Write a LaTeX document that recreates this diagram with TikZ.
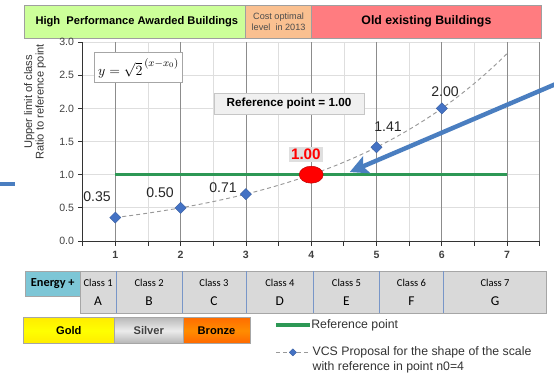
\documentclass[tikz,border=0pt]{standalone}
\usepackage{fontspec}
\setmainfont{Liberation Sans}
\newfontfamily\calibri{Carlito}
\usetikzlibrary{shapes.geometric,arrows.meta}
\definecolor{hdrgreen}{RGB}{204,255,153}
\definecolor{hdrorange}{RGB}{250,192,144}
\definecolor{hdrred}{RGB}{255,124,128}
\definecolor{energyblue}{RGB}{125,198,214}
\definecolor{classgray}{RGB}{217,217,217}
\definecolor{divblue}{RGB}{120,150,200}
\definecolor{refgreen}{RGB}{45,152,85}
\definecolor{markblue}{RGB}{68,114,196}
\definecolor{arrowblue}{RGB}{74,126,192}
\definecolor{gridmaj}{RGB}{140,140,140}
\definecolor{gridmin}{RGB}{222,222,222}
\tikzset{
  hdrbox/.style={draw=gray!75,line width=0.8pt},
  gridminor/.style={draw=gridmin,line width=0.6pt},
  gridmajor/.style={draw=gridmaj,line width=0.7pt},
  axisline/.style={draw=black!80,line width=0.7pt},
  refline/.style={draw=refgreen,line width=2.8pt},
  vcscurve/.style={draw=gray!80,line width=0.8pt,dash pattern=on 3.4pt off 2.6pt},
  vcsmark/.style={diamond,fill=markblue,draw=markblue!80!black,line width=0.3pt,inner sep=0pt,minimum size=0.34cm},
  datalbl/.style={font=\fontsize{12}{13}\selectfont,text=black!85},
  ticklbl/.style={font=\fontsize{9}{10}\selectfont,text=black!75,inner sep=0pt},
  classlbl/.style={font=\calibri\fontsize{9}{10}\selectfont},
  classletter/.style={font=\calibri\fontsize{11.5}{12}\selectfont},
  medal/.style={draw=gray!70,line width=0.8pt},
  medallbl/.style={font=\bfseries\fontsize{9.5}{10}\selectfont},
  legendlbl/.style={font=\fontsize{10.5}{13}\selectfont,text=black!80,inner sep=1pt},
  bigarrow/.style={draw=arrowblue,line width=3.8pt,-{Stealth[length=0.55cm,width=0.55cm,inset=0.12cm]}}
}
\begin{document}
\begin{tikzpicture}[x=1.959cm,y=1.989cm]
\useasboundingbox (-0.766,-1.976) rectangle (7.718,3.635);
\draw [hdrbox,fill=hdrgreen] (-0.398,3.062) rectangle (3,3.555);
\draw [hdrbox,fill=hdrorange] (3,3.062) rectangle (4,3.555);
\draw [hdrbox,fill=hdrred] (4,3.062) rectangle (7.52,3.555);
\node [font=\bfseries\fontsize{9.5}{10}\selectfont] (hpab) at (1.33,3.308) {High\ \ Performance Awarded Buildings};
\node [align=center,text=black!70,font=\fontsize{7.8}{9}\selectfont] (costopt) at (3.5,3.308) {Cost optimal\\level\ \ in 2013};
\node [font=\bfseries\fontsize{10.5}{11}\selectfont] (oldbld) at (5.764,3.308) {Old existing Buildings};
\foreach \y in {0.5,1,...,3} \draw [gridminor] (0.5,\y) -- (7.5,\y);
\foreach \x in {1.5,2.5,...,6.5} \draw [gridminor] (\x,0) -- (\x,3);
\foreach \x in {1,...,7} \draw [gridmajor] (\x,0) -- (\x,3);
\draw [gridmajor] (7.5,0) -- (7.5,3);
\draw [axisline] (0.5,3) -- (0.5,0) -- (7.5,0);
\foreach \y/\t [count=\i] in {0/0.0,0.5/0.5,1/1.0,1.5/1.5,2/2.0,2.5/2.5,3/3.0} {
  \draw [axisline] (0.5,\y) -- (0.43,\y);
  \node [ticklbl,anchor=east] (yt\i) at (0.37,\y) {\t};
}
\foreach \x in {0.5,1,...,7.5} \draw [axisline] (\x,0) -- (\x,-0.07);
\foreach \x in {1,...,7} \node [ticklbl,font=\bfseries\fontsize{9}{10}\selectfont] (xt\x) at (\x,-0.211) {\x};
\node [rotate=90,align=center,text=black!80,font=\fontsize{9.5}{10}\selectfont] (ylab) at (-0.23,2.097) {Upper limit of class\\Ratio to reference point};
\coordinate (bd1) at (-0.766,0.86);
\coordinate (bd2) at (-0.536,0.86);
\draw [draw=arrowblue,line width=4pt] (bd1) -- (bd2);
\node [draw=gray!70,fill=white,line width=0.8pt,minimum width=2.43cm,minimum height=0.9cm,font=\fontsize{13}{14}\selectfont] (formula) at (1.355,2.61) {$y=\sqrt{2}^{\,(x-x_0)}$};
\node [draw=gray!45,fill=gray!12,minimum width=4.5cm,minimum height=0.63cm,font=\bfseries\fontsize{10}{11}\selectfont] (refbox) at (3.66,2.074) {Reference point = 1.00};
\draw [vcscurve] plot[domain=1:7,samples=60] (\x,{pow(2,(\x-4)/2)});
\coordinate (g1) at (1,1);
\coordinate (g7) at (7,1);
\draw [refline] (g1) -- (g7);
\foreach \n/\v in {1/0.354,2/0.5,3/0.707,4/1,5/1.414,6/2} \node [vcsmark] (m\n) at (\n,\v) {};
\node [ellipse,fill=red,draw=red!75!black,line width=0.4pt,minimum width=0.72cm,minimum height=0.51cm,inner sep=0pt] (refpt) at (4,1) {};
\node [fill=gray!25,text=red,minimum width=1.01cm,minimum height=0.44cm,inner sep=0pt,font=\bfseries\fontsize{13}{14}\selectfont] (reflbl) at (3.918,1.307) {1.00};
\node [datalbl] (l1) at (0.72,0.664) {0.35};
\node [datalbl] (l2) at (1.685,0.724) {0.50};
\node [datalbl] (l3) at (2.649,0.80) {0.71};
\node [datalbl] (l5) at (5.176,1.72) {1.41};
\node [datalbl] (l6) at (6.049,2.247) {2.00};
\coordinate (arrfrom) at (7.75,2.37);
\coordinate (arrto) at (4.59,1.04);
\draw [bigarrow] (arrfrom) -- (arrto);
\draw [fill=energyblue,draw=gray!70,line width=0.7pt] (-0.375,-0.452) rectangle (0.459,-0.837);
\node [font=\calibri\bfseries\fontsize{10.5}{11}\selectfont] (energy) at (0.042,-0.645) {Energy +};
\draw [fill=classgray,draw=gray!70,line width=0.7pt] (0.459,-0.452) rectangle (7.6,-1.093);
\foreach \x in {1.015,2.02,3.0,4.04,5.04,6.03} \draw [draw=divblue,line width=0.7pt] (\x,-0.452) -- (\x,-1.093);
\foreach \n/\c/\L in {1/0.737/A,2/1.518/B,3/2.51/C,4/3.52/D,5/4.54/E,6/5.535/F,7/6.815/G} {
  \node [classlbl] (cl\n) at (\c,-0.633) {Class \n};
  \node [classletter] (cx\n) at (\c,-0.905) {\L};
}
\shade [top color=yellow!85!orange,bottom color=yellow!85!orange,middle color=yellow] (-0.413,-1.152) rectangle (0.988,-1.553);
\shade [top color=gray!55,bottom color=gray!60,middle color=gray!15] (0.988,-1.152) rectangle (2.037,-1.553);
\shade [top color=orange!85!red,bottom color=orange!80!red,middle color=orange!90!yellow] (2.037,-1.152) rectangle (3.063,-1.553);
\draw [medal] (-0.413,-1.152) rectangle (0.988,-1.553);
\draw [medal] (0.988,-1.152) rectangle (2.037,-1.553);
\draw [medal] (2.037,-1.152) rectangle (3.063,-1.553);
\node [medallbl] (gold) at (0.288,-1.352) {Gold};
\node [medallbl,text=black!75] (silver) at (1.512,-1.352) {Silver};
\node [medallbl] (bronze) at (2.55,-1.352) {Bronze};
\coordinate (lg1a) at (3.461,-1.267);
\coordinate (lg1b) at (3.98,-1.267);
\draw [refline] (lg1a) -- (lg1b);
\node [legendlbl,anchor=west] (lg1t) at (lg1b) {Reference point};
\coordinate (lg2a) at (3.461,-1.68);
\coordinate (lg2b) at (3.98,-1.68);
\draw [vcscurve] (lg2a) -- (lg2b);
\node [vcsmark,minimum size=0.22cm] (lg2m) at (3.72,-1.68) {};
\node [legendlbl,anchor=west,align=left] (lg2t) at (4.0,-1.79) {VCS Proposal for the shape of the scale\\with reference in point n0=4};
\end{tikzpicture}
\end{document}
